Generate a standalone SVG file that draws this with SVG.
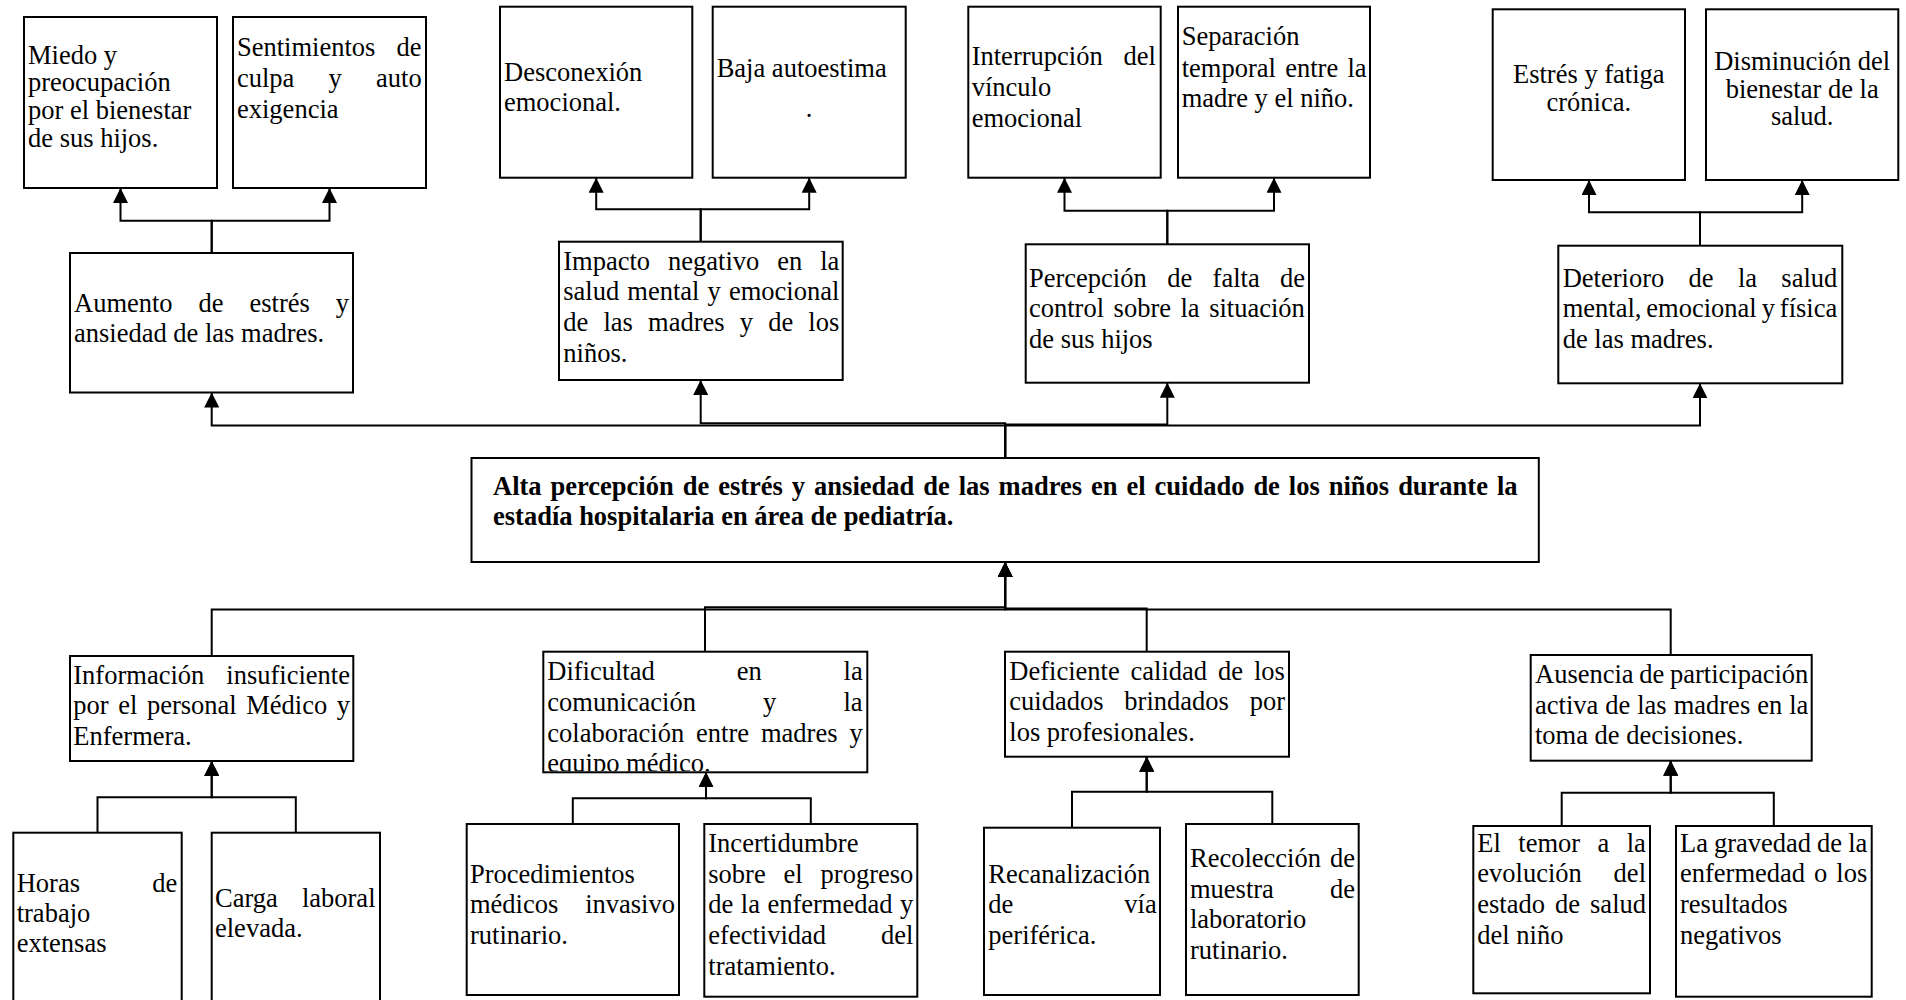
<svg xmlns="http://www.w3.org/2000/svg" width="1906" height="1000" viewBox="0 0 1906 1000">
<style>
.box{fill:#fff;stroke:#000;stroke-width:2}
.t{font-family:"Liberation Serif","Times New Roman",serif;font-size:26.5px;fill:#000}
.b{font-weight:bold}
.c{fill:none;stroke:#000;stroke-width:2;marker-end:url(#arr)}
</style>
<defs>
<marker id="arr" viewBox="0 0 15 15" refX="15" refY="7.5" markerWidth="15" markerHeight="15" markerUnits="userSpaceOnUse" orient="auto">
<path d="M0,0 L15,7.5 L0,15 Z" fill="#000"/>
</marker>
<clipPath id="clipDif"><rect x="544" y="652" width="322" height="119.3"/></clipPath>
</defs>
<rect width="1906" height="1000" fill="#fff"/>

<g id="connectors">
<polyline class="c" points="211.7,253 211.7,220.7 120.5,220.7 120.5,188"/>
<polyline class="c" points="211.7,253 211.7,220.7 329.5,220.7 329.5,188"/>
<polyline class="c" points="700.7,241.7 700.7,209.3 596.2,209.3 596.2,177.7"/>
<polyline class="c" points="700.7,241.7 700.7,209.3 809.2,209.3 809.2,177.7"/>
<polyline class="c" points="1167.3,244.3 1167.3,210.7 1064.5,210.7 1064.5,177.7"/>
<polyline class="c" points="1167.3,244.3 1167.3,210.7 1274,210.7 1274,177.7"/>
<polyline class="c" points="1700,245.7 1700,212.3 1589,212.3 1589,180"/>
<polyline class="c" points="1700,245.7 1700,212.3 1802.2,212.3 1802.2,180"/>
<polyline class="c" points="1005.2,458 1005.2,425.5 211.7,425.5 211.7,392.5"/>
<polyline class="c" points="1005.2,458 1005.2,423.3 700.7,423.3 700.7,380"/>
<polyline class="c" points="1005.2,458 1005.2,424.5 1167.3,424.5 1167.3,382.7"/>
<polyline class="c" points="1005.2,458 1005.2,425.5 1700,425.5 1700,383.3"/>
<polyline class="c" points="211.7,656 211.7,609.5 1005.2,609.5 1005.2,562"/>
<polyline class="c" points="705,651.7 705,607.3 1005.2,607.3 1005.2,562"/>
<polyline class="c" points="1146.7,651.7 1146.7,608.5 1005.2,608.5 1005.2,562"/>
<polyline class="c" points="1670.7,655 1670.7,609.5 1005.2,609.5 1005.2,562"/>
<polyline class="c" points="97.5,832.7 97.5,797.3 211.7,797.3 211.7,761"/>
<polyline class="c" points="295.8,832.7 295.8,797.3 211.7,797.3 211.7,761"/>
<polyline class="c" points="572.8,824 572.8,798.3 706,798.3 706,772.3"/>
<polyline class="c" points="810.8,824 810.8,798.3 706,798.3 706,772.3"/>
<polyline class="c" points="1072,827.7 1072,791.7 1146.7,791.7 1146.7,756.7"/>
<polyline class="c" points="1272.3,824 1272.3,791.7 1146.7,791.7 1146.7,756.7"/>
<polyline class="c" points="1561.7,826 1561.7,792.7 1670.7,792.7 1670.7,760.7"/>
<polyline class="c" points="1773.8,826 1773.8,792.7 1670.7,792.7 1670.7,760.7"/>
</g>

<g id="miedo">
<rect class="box" x="24" y="17" width="193" height="171"/>
<text class="t" x="28" y="63.5">Miedo y</text>
<text class="t" x="28" y="91.3">preocupación</text>
<text class="t" x="28" y="119.1">por el bienestar</text>
<text class="t" x="28" y="146.9">de sus hijos.</text>
</g>
<g id="sentimientos">
<rect class="box" x="233" y="17" width="193" height="171"/>
<text class="t" x="237" y="56" style="word-spacing:14.6px">Sentimientos de</text>
<text class="t" x="237" y="87" style="word-spacing:27.6px">culpa y auto</text>
<text class="t" x="237" y="117.5">exigencia</text>
</g>
<g id="desconexion">
<rect class="box" x="500" y="6.7" width="192.3" height="171"/>
<text class="t" x="504" y="81">Desconexión</text>
<text class="t" x="504" y="111">emocional.</text>
</g>
<g id="baja-autoestima">
<rect class="box" x="712.7" y="6.7" width="193" height="171"/>
<text class="t" x="716.7" y="76.7">Baja autoestima</text>
<text class="t" x="809" y="116.7" text-anchor="middle">.</text>
</g>
<g id="interrupcion">
<rect class="box" x="968.3" y="6.7" width="192.4" height="171"/>
<text class="t" x="971.7" y="65.3" style="word-spacing:14.3px">Interrupción del</text>
<text class="t" x="971.7" y="96">vínculo</text>
<text class="t" x="971.7" y="126.8">emocional</text>
</g>
<g id="separacion">
<rect class="box" x="1178" y="6.7" width="192" height="171"/>
<text class="t" x="1181.7" y="45">Separación</text>
<text class="t" x="1181.7" y="76.7" style="word-spacing:2.7px">temporal entre la</text>
<text class="t" x="1181.7" y="107.3">madre y el niño.</text>
</g>
<g id="estres-fatiga">
<rect class="box" x="1492.7" y="9.3" width="192.3" height="170.7"/>
<text class="t" x="1588.8" y="83.3" text-anchor="middle">Estrés y fatiga</text>
<text class="t" x="1588.8" y="111" text-anchor="middle">crónica.</text>
</g>
<g id="disminucion">
<rect class="box" x="1706" y="9.3" width="192.3" height="170.7"/>
<text class="t" x="1802.2" y="70" text-anchor="middle">Disminución del</text>
<text class="t" x="1802.2" y="97.7" text-anchor="middle">bienestar de la</text>
<text class="t" x="1802.2" y="125" text-anchor="middle">salud.</text>
</g>

<g id="aumento">
<rect class="box" x="70" y="253" width="283" height="139.5"/>
<text class="t" x="74" y="311.7" style="word-spacing:19.3px">Aumento de estrés y</text>
<text class="t" x="74" y="342.3">ansiedad de las madres.</text>
</g>
<g id="impacto">
<rect class="box" x="559" y="241.7" width="283.7" height="138.3"/>
<text class="t" x="563.3" y="269.5" style="word-spacing:11.3px">Impacto negativo en la</text>
<text class="t" x="563.3" y="300.3" style="word-spacing:1.47px">salud mental y emocional</text>
<text class="t" x="563.3" y="331.1" style="word-spacing:8.54px">de las madres y de los</text>
<text class="t" x="563.3" y="361.9">niños.</text>
</g>
<g id="percepcion">
<rect class="box" x="1025.7" y="244.3" width="283.3" height="138.4"/>
<text class="t" x="1029" y="286.5" style="word-spacing:13.8px">Percepción de falta de</text>
<text class="t" x="1029" y="317.3" style="word-spacing:2.9px">control sobre la situación</text>
<text class="t" x="1029" y="348.1">de sus hijos</text>
</g>
<g id="deterioro">
<rect class="box" x="1558.3" y="245.7" width="284" height="137.6"/>
<text class="t" x="1562.7" y="286.7" style="word-spacing:17.7px">Deterioro de la salud</text>
<text class="t" x="1562.7" y="317.3" style="word-spacing:-1.7px">mental, emocional y física</text>
<text class="t" x="1562.7" y="348.3">de las madres.</text>
</g>

<g id="problema-central">
<rect class="box" x="471.5" y="458" width="1067.3" height="104"/>
<text class="t b" x="493" y="494.5" style="word-spacing:2.35px">Alta percepción de estrés y ansiedad de las madres en el cuidado de los niños durante la</text>
<text class="t b" x="493" y="525">estadía hospitalaria en área de pediatría.</text>
</g>

<g id="informacion">
<rect class="box" x="70" y="656" width="283.3" height="105"/>
<text class="t" x="73.3" y="683.5" style="word-spacing:15.4px">Información insuficiente</text>
<text class="t" x="73.3" y="714.3" style="word-spacing:2.95px">por el personal Médico y</text>
<text class="t" x="73.3" y="745.1">Enfermera.</text>
</g>
<g id="dificultad">
<rect class="box" x="543.3" y="651.7" width="324" height="120.6"/>
<g clip-path="url(#clipDif)">
<text class="t" x="547.3" y="680" style="word-spacing:75.3px">Dificultad en la</text>
<text class="t" x="547.3" y="710.7" style="word-spacing:60.5px">comunicación y la</text>
<text class="t" x="547.3" y="741.7" style="word-spacing:5.3px">colaboración entre madres y</text>
<text class="t" x="547.3" y="772.4">equipo médico.</text>
</g>
</g>
<g id="deficiente">
<rect class="box" x="1005" y="651.7" width="284" height="105"/>
<text class="t" x="1009.3" y="680" style="word-spacing:4.3px">Deficiente calidad de los</text>
<text class="t" x="1009.3" y="710" style="word-spacing:14.2px">cuidados brindados por</text>
<text class="t" x="1009.3" y="740.7">los profesionales.</text>
</g>
<g id="ausencia">
<rect class="box" x="1530.7" y="655" width="281" height="105.7"/>
<text class="t" x="1535" y="683.3" style="word-spacing:-0.95px">Ausencia de participación</text>
<text class="t" x="1535" y="714" style="word-spacing:0.36px">activa de las madres en la</text>
<text class="t" x="1535" y="744">toma de decisiones.</text>
</g>

<g id="horas">
<rect class="box" x="13.3" y="832.7" width="168.4" height="180"/>
<text class="t" x="16.7" y="891.7" style="word-spacing:65.7px">Horas de</text>
<text class="t" x="16.7" y="921.7">trabajo</text>
<text class="t" x="16.7" y="951.7">extensas</text>
</g>
<g id="carga">
<rect class="box" x="211.7" y="832.7" width="168.3" height="180"/>
<text class="t" x="215" y="906.7" style="word-spacing:17.5px">Carga laboral</text>
<text class="t" x="215" y="936.7">elevada.</text>
</g>
<g id="procedimientos">
<rect class="box" x="466.7" y="824" width="212.3" height="171"/>
<text class="t" x="470" y="882.7">Procedimientos</text>
<text class="t" x="470" y="913.3" style="word-spacing:20.2px">médicos invasivo</text>
<text class="t" x="470" y="944">rutinario.</text>
</g>
<g id="incertidumbre">
<rect class="box" x="704.3" y="824" width="213" height="172.7"/>
<text class="t" x="708.3" y="851.7">Incertidumbre</text>
<text class="t" x="708.3" y="882.7" style="word-spacing:11.25px">sobre el progreso</text>
<text class="t" x="708.3" y="913.3" style="word-spacing:0.87px">de la enfermedad y</text>
<text class="t" x="708.3" y="944" style="word-spacing:48.3px">efectividad del</text>
<text class="t" x="708.3" y="974.6">tratamiento.</text>
</g>
<g id="recanalizacion">
<rect class="box" x="984" y="827.7" width="176" height="167.3"/>
<text class="t" x="988.3" y="882.7">Recanalización</text>
<text class="t" x="988.3" y="913.3" style="word-spacing:104.4px">de vía</text>
<text class="t" x="988.3" y="944">periférica.</text>
</g>
<g id="recoleccion">
<rect class="box" x="1186" y="824" width="172.7" height="171"/>
<text class="t" x="1190" y="866.7" style="word-spacing:2.4px">Recolección de</text>
<text class="t" x="1190" y="897.7" style="word-spacing:49.5px">muestra de</text>
<text class="t" x="1190" y="928.3">laboratorio</text>
<text class="t" x="1190" y="959">rutinario.</text>
</g>
<g id="temor">
<rect class="box" x="1473.3" y="826" width="176.7" height="167.3"/>
<text class="t" x="1477.3" y="851.7" style="word-spacing:10.8px">El temor a la</text>
<text class="t" x="1477.3" y="882.3" style="word-spacing:25.2px">evolución del</text>
<text class="t" x="1477.3" y="913.3" style="word-spacing:3.4px">estado de salud</text>
<text class="t" x="1477.3" y="944">del niño</text>
</g>
<g id="gravedad">
<rect class="box" x="1676" y="826" width="195.7" height="170.7"/>
<text class="t" x="1680" y="851.7" style="word-spacing:-0.6px">La gravedad de la</text>
<text class="t" x="1680" y="882.3" style="word-spacing:2.4px">enfermedad o los</text>
<text class="t" x="1680" y="913.3">resultados</text>
<text class="t" x="1680" y="944">negativos</text>
</g>
</svg>
